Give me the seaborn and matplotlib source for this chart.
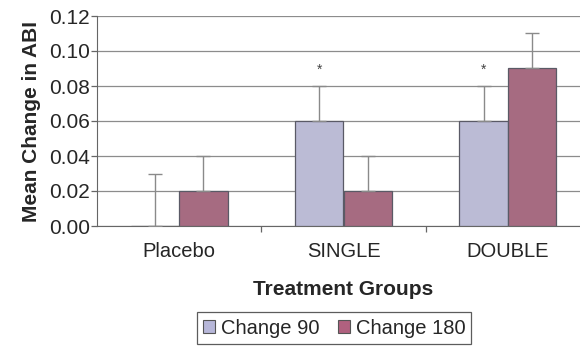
import numpy as np
import pandas as pd
import matplotlib
matplotlib.use('Agg')
import matplotlib.pyplot as plt
import seaborn as sns

# data
groups = ['Placebo', 'SINGLE', 'DOUBLE']
series = ['Change 90', 'Change 180']
change_90 = [0.00, 0.06, 0.06]
change_180 = [0.02, 0.02, 0.09]
err_90 = [0.03, 0.02, 0.02]
err_180 = [0.02, 0.02, 0.02]
significant_90 = [False, True, True]

colors = ['#b7b7d9', '#b0617f']

sns.set_style('white')
plt.rcParams['font.family'] = ['Liberation Sans', 'DejaVu Sans']

df = pd.DataFrame({
    'group': groups * 2,
    'series': [series[0]] * 3 + [series[1]] * 3,
    'value': change_90 + change_180,
    'err': err_90 + err_180,
})

fig = plt.figure(figsize=(5.8, 3.47), dpi=100)
ax = fig.add_axes([97 / 580, 1 - 226 / 347, (590 - 97) / 580, (226 - 16) / 347])

sns.barplot(data=df, x='group', y='value', hue='series', order=groups,
            hue_order=series, palette=colors, width=0.59, gap=0,
            errorbar=None, edgecolor='#5a5a66', linewidth=0.9,
            legend=False, ax=ax, zorder=3)

# upward-only error bars, placed on the drawn bars
bars = [p for p in ax.patches]
for i, s in enumerate(series):
    sub = df[df['series'] == s]
    for j, g in enumerate(groups):
        p = bars[i * len(groups) + j]
        xc = p.get_x() + p.get_width() / 2
        v = sub['value'].iloc[j]
        e = sub['err'].iloc[j]
        ax.errorbar(xc, v, yerr=[[0], [e]], fmt='none', ecolor='#8a8a8a',
                    elinewidth=1.0, capsize=5, capthick=1.0, zorder=4)
        if i == 0 and significant_90[j]:
            ax.text(xc, v + e + 0.0095, '*', ha='center', va='center',
                    fontsize=10, color='#444444')

ax.set_ylim(0, 0.12)
ax.set_xlim(-0.5, 2.5)
ticks = np.arange(0, 0.121, 0.02)
ax.set_yticks(ticks)
ax.set_yticklabels([f'{t:.2f}' for t in ticks], fontsize=15)
ax.yaxis.grid(True, color='#8c8c8c', linewidth=0.9, zorder=0)
ax.set_axisbelow(True)
ax.tick_params(axis='y', left=True, length=4, width=0.9, color='#666666', pad=1)
ax.tick_params(axis='x', labelsize=14.5, pad=8, bottom=False)
ax.set_xticks([0.5, 1.5], minor=True)
ax.tick_params(axis='x', which='minor', bottom=True, length=4, width=0.9, color='#666666')

for side in ['top', 'right']:
    ax.spines[side].set_visible(False)
ax.spines['left'].set_color('#666666')
ax.spines['bottom'].set_color('#666666')

ax.set_ylabel('Mean Change in ABI', fontsize=15, fontweight='bold', labelpad=6)
ax.set_xlabel('Treatment Groups', fontsize=15, fontweight='bold', labelpad=14)

handles = [plt.Rectangle((0, 0), 1, 1, facecolor=c, edgecolor='#555555', linewidth=0.8)
           for c in colors]
leg = fig.legend(handles, series, loc='center', bbox_to_anchor=(334 / 580, 1 - 328 / 347),
                 ncol=2, fontsize=14.5, frameon=True, fancybox=False,
                 handlelength=0.6, handleheight=0.6, handletextpad=0.3,
                 columnspacing=0.9, borderpad=0.3)
leg.get_frame().set_edgecolor('#333333')
leg.get_frame().set_linewidth(0.9)

fig.savefig('out.png', dpi=100)
